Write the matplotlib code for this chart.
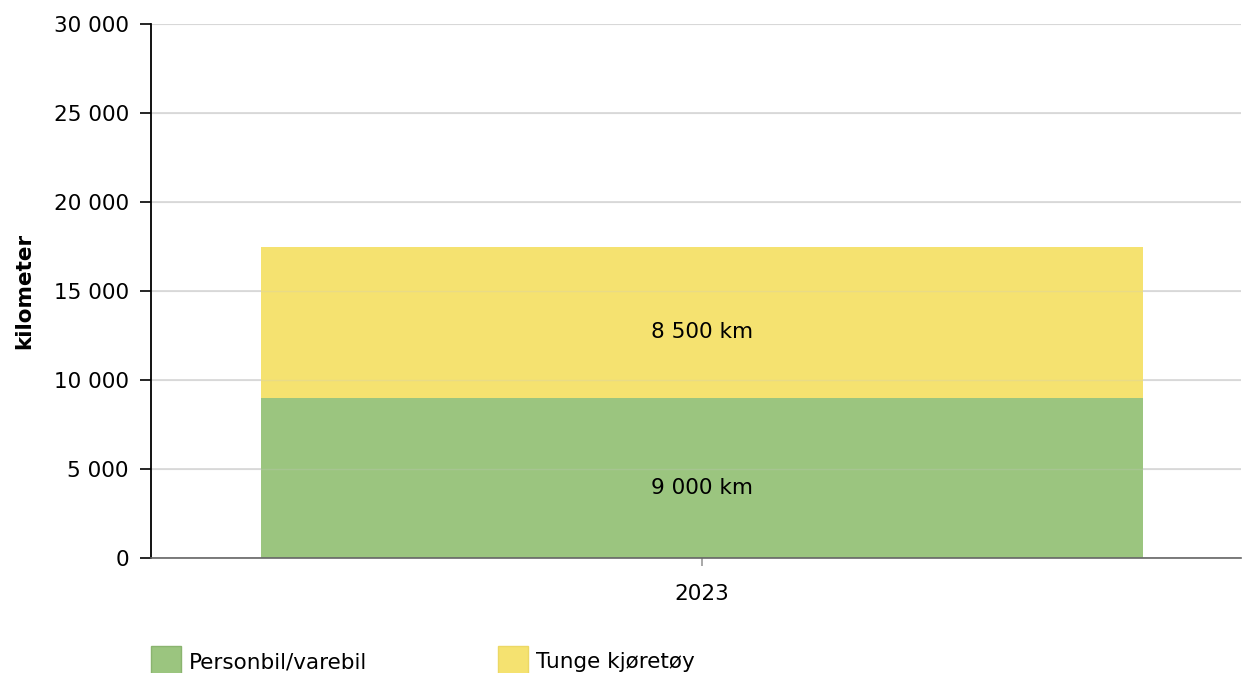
import matplotlib
matplotlib.use("Agg")
import matplotlib.pyplot as plt
from matplotlib.patches import Rectangle
from matplotlib.ticker import FuncFormatter
from matplotlib.transforms import offset_copy

categories = ["2023"]
series_names = ["Personbil/varebil", "Tunge kjøretøy"]
personbil = [9000]
tunge = [8500]
colors = ["#9bc57f", "#f5e270"]
edges = ["#8ab46f", "#ecd865"]

plt.rcParams['font.family'] = ['DejaVu Sans']
W, H = 1242, 673
fig = plt.figure(figsize=(W/100, H/100), dpi=100)
ax = fig.add_axes([151/W, 1-558/H, (1241-151)/W, (558-24)/H])

x = list(range(len(categories)))
ax.bar(x, personbil, width=1.0, color=colors[0], zorder=1)
ax.bar(x, tunge, bottom=personbil, width=1.0, color=colors[1], zorder=1)
ax.grid(axis='y', color='#d8d8d8', linewidth=1.2, zorder=0.5)
ax.set_axisbelow(True)
for yv in range(5000, 30001, 5000):
    ax.axhline(yv, color='#c8c8c8', linewidth=1.0, alpha=0.25, zorder=1.5)

tr = offset_copy(ax.transData, fig=fig, x=0, y=-7, units='points')
for i in x:
    ax.text(i, personbil[i] / 2, f"{personbil[i]:,} km".replace(",", " "),
            ha='center', va='center', fontsize=15.5, zorder=3, transform=tr)
    ax.text(i, personbil[i] + tunge[i] / 2, f"{tunge[i]:,} km".replace(",", " "),
            ha='center', va='center', fontsize=15.5, zorder=3, transform=tr)

ax.set_ylim(0, 30000)
ax.set_yticks(range(0, 30001, 5000))
ax.yaxis.set_major_formatter(FuncFormatter(lambda v, p: f"{int(v):,}".replace(",", " ")))
ax.set_xlim(-551/882, 539/882)
ax.set_xticks(x)
ax.set_xticklabels(categories)
ax.tick_params(axis='y', length=8, width=1.2, color='black', labelsize=15.5, pad=8)
ax.tick_params(axis='x', length=6, width=1.2, color='#999999', labelsize=15.5, pad=13)
for s in ['top', 'right']:
    ax.spines[s].set_visible(False)
ax.spines['left'].set_linewidth(1.3)
ax.spines['bottom'].set_color('#666666')
ax.spines['bottom'].set_linewidth(1.2)
ax.spines['left'].set_zorder(4)
ax.spines['bottom'].set_zorder(4)

fig.text(24/W, 1-291/H, "kilometer", rotation=90, ha='center', va='center',
         fontsize=15.5, fontweight='bold')

legend_x = [151, 498]
for lx, name, c, e in zip(legend_x, series_names, colors, edges):
    fig.patches.append(Rectangle((lx/W, 1-676/H), 30/W, 30/H, transform=fig.transFigure,
                                 facecolor=c, edgecolor=e, linewidth=1.0))
    fig.text((lx+38)/W, 1-662/H, name, ha='left', va='center', fontsize=15.5)

fig.savefig("out.png", dpi=100)
